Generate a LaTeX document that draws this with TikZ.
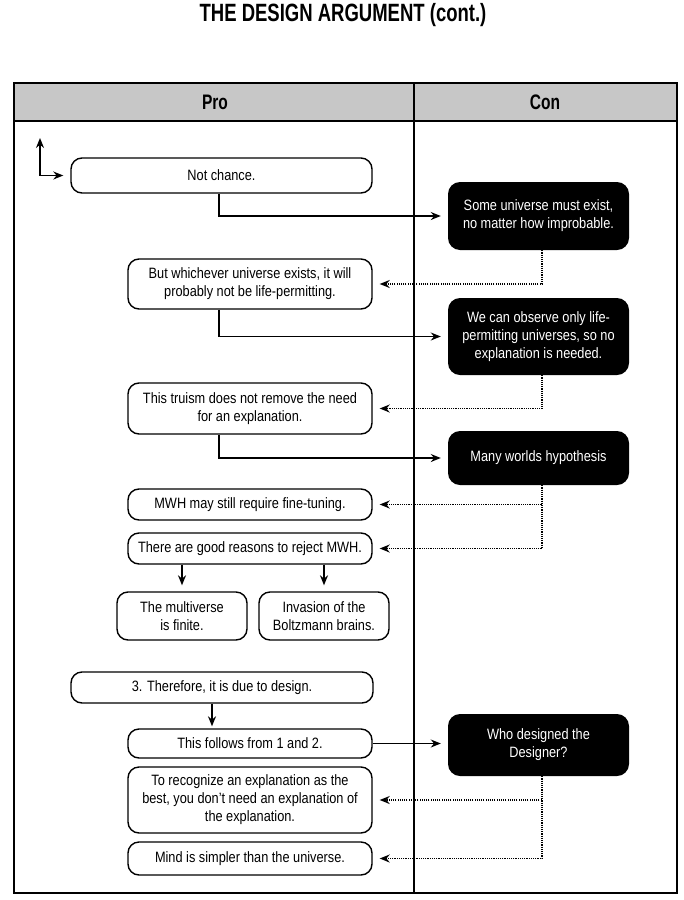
\documentclass[tikz,border=0pt]{standalone}
\usepackage{fontspec}
\setmainfont{Liberation Sans}[FakeStretch=0.85]
\newfontfamily\headfont{Liberation Sans}[FakeStretch=0.74]
\usetikzlibrary{arrows.meta}

\begin{document}
\begin{tikzpicture}[
    x=1pt, y=-1pt,
    pro/.style={draw, line width=1.4pt, rounded corners=11pt, fill=white, align=center,
        inner sep=2pt, minimum width=244pt, font=\fontsize{15}{18}\selectfont},
    con/.style={fill=black, text=white, rounded corners=12pt, align=center,
        inner sep=2pt, minimum width=181pt, font=\fontsize{15}{18}\selectfont},
    head/.style={font=\headfont\bfseries\fontsize{21}{24}\selectfont},
    link/.style={-{Stealth[length=10pt,width=8pt]}, line width=1.4pt, shorten >=7pt},
    reply/.style={-{Stealth[length=10pt,width=8pt]}, line width=1.4pt,
        dash pattern=on 1.1pt off 1.1pt, shorten >=7pt}
]
    \useasboundingbox (0,0) rectangle (684,900);

    \node[font=\headfont\bfseries\fontsize{25}{28}\selectfont] (title) at (343,15) {THE DESIGN ARGUMENT (cont.)};

    \filldraw[fill=black!22, line width=1.8pt] (14,83) rectangle (677,121);
    \draw[line width=1.8pt] (14,83) rectangle (677,893);
    \draw[line width=1.5pt] (414,83) -- (414,893);
    \node[head] (pro) at (215,102) {Pro};
    \node[head] (con) at (545,102) {Con};

    \node[pro, minimum width=301pt, minimum height=35pt] (nc) at (221.5,175.5) {Not chance.};
    \node[pro, minimum height=50pt] (uw) at (250,284) {But whichever universe exists, it will\\probably not be life-permitting.};
    \node[pro, minimum height=51pt] (tr) at (250,408.5) {This truism does not remove the need\\for an explanation.};
    \node[pro, minimum height=31pt] (ft) at (250,504.5) {MWH may still require fine-tuning.};
    \node[pro, minimum height=31pt] (rj) at (250,548.5) {There are good reasons to reject MWH.};
    \node[pro, minimum width=130pt, minimum height=48pt] (fin) at (182,616) {The multiverse\\is finite.};
    \node[pro, minimum width=130pt, minimum height=48pt] (bb) at (324,616) {Invasion of the\\Boltzmann brains.};
    \node[pro, minimum width=302pt, minimum height=31pt] (th) at (222,687.5) {3. Therefore, it is due to design.};
    \node[pro, minimum height=29pt] (fl) at (250,743.5) {This follows from 1 and 2.};
    \node[pro, minimum height=66pt] (rc) at (250,800) {To recognize an explanation as the\\best, you don’t need an explanation of\\the explanation.};
    \node[pro, minimum height=33pt] (ms) at (250,858.5) {Mind is simpler than the universe.};

    \node[con, minimum height=68pt] (su) at (538.5,216) {Some universe must exist,\\no matter how improbable.};
    \node[con, minimum height=77pt] (ob) at (538.5,336.5) {We can observe only life-\\permitting universes, so no\\explanation is needed.};
    \node[con, minimum height=54pt] (mw) at (538.5,458) {Many worlds hypothesis};
    \node[con, minimum height=62pt] (wd) at (538.5,745) {Who designed the\\Designer?};

    \coordinate (up) at (40,138);
    \draw[link, {Stealth[length=10pt,width=8pt]}-{Stealth[length=10pt,width=8pt]}] (up) |- (nc.west);

    \draw[link] ([xshift=-2.5pt]nc.south) |- (su.west);
    \draw[reply] ([xshift=3.5pt]su.south) |- (uw.east);
    \draw[link] ([xshift=-31pt]uw.south) |- (ob.west);
    \draw[reply] ([xshift=3.5pt]ob.south) |- (tr.east);
    \draw[link] ([xshift=-31pt]tr.south) |- (mw.west);
    \draw[reply] ([xshift=3.5pt]mw.south) |- (ft.east);
    \draw[reply] ([xshift=3.5pt]mw.south) |- (rj.east);
    \draw[link, shorten >=6pt] (fin.north |- rj.south) -- (fin.north);
    \draw[link, shorten >=6pt] (bb.north |- rj.south) -- (bb.north);
    \draw[link, shorten >=2pt] ([xshift=-10pt]th.south) -- ([xshift=-10pt]th.south |- fl.north);
    \draw[link] (fl.east) -- (fl.east -| wd.west);
    \draw[reply] ([xshift=3.5pt]wd.south) |- (rc.east);
    \draw[reply] ([xshift=3.5pt]wd.south) |- (ms.east);
\end{tikzpicture}
\end{document}
